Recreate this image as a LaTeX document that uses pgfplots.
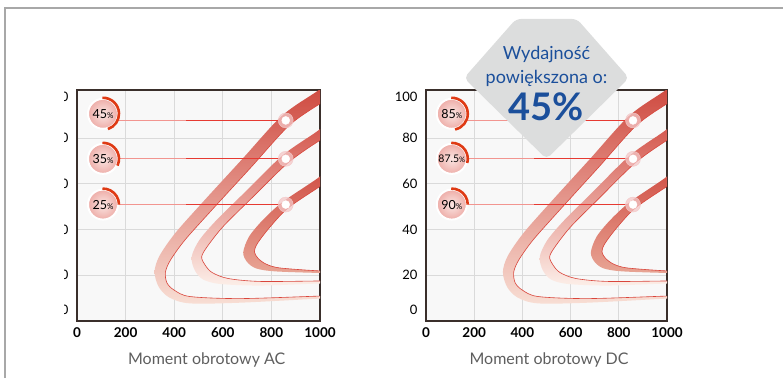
\documentclass[border=0pt]{standalone}
\usepackage{pgfplots}
\usepackage{pgfplotstable}
\pgfplotsset{compat=1.18}
\usepackage{fontspec}
\setmainfont{Lato}
\definecolor{bgc}{HTML}{F8F8F8}
\definecolor{gridc}{HTML}{DADADA}
\definecolor{axc}{HTML}{3A2F2B}
\definecolor{framec}{HTML}{A8A8A8}
\definecolor{lnred}{HTML}{D9463C}
\definecolor{linepale}{HTML}{F29590}
\definecolor{linered}{HTML}{E63A32}
\definecolor{arcred}{HTML}{DF3A14}
\definecolor{badgein}{HTML}{FBE6E3}
\definecolor{badgeout}{HTML}{EEAFAA}
\definecolor{halo}{HTML}{F4C8C8}
\definecolor{hexc}{HTML}{DCDDDD}
\definecolor{bluec}{HTML}{1B4F9B}
\definecolor{labelc}{HTML}{5E5E5E}

% outer ribbon (45% / 85%)
\pgfplotstableread{
x y
1068 106.3
986 100.3
842 89.6
680 70.8
516 51.8
404 38.4
339 28.4
319 21.4
337 14.8
381 10.2
465 7.7
671 8.0
1000 9.8
1082 10.0
1082 11.0
1000 10.9
671 9.8
465 10.7
400 13.5
370 16.7
364 21.4
385 26.7
444 35.4
552 48.2
716 67.2
875 85.7
1014 96.0
1096 102.0
}\bandA
\pgfplotstableread{
x y
1096 102.0
1014 96.0
875 85.7
716 67.2
552 48.2
444 35.4
385 26.7
364 21.4
370 16.7
400 13.5
465 10.7
671 9.8
1000 10.9
1082 11.0
}\edgeA
% middle ribbon
\pgfplotstableread{
x y
1066 89.7
989 83.0
846 72.4
685 55.7
574 44.1
503 35.3
472 28.1
484 22.3
518 18.2
588 16.2
753 15.5
1000 16.4
1082 16.5
1082 17.5
1000 17.5
753 17.3
621 18.6
556 21.2
527 24.5
513 28.1
537 32.7
602 41.4
712 53.0
871 69.4
1011 79.8
1099 85.3
}\bandB
\pgfplotstableread{
x y
1099 85.3
1011 79.8
871 69.4
712 53.0
602 41.4
537 32.7
513 28.1
527 24.5
556 21.2
621 18.6
753 17.3
1000 17.5
1082 17.5
}\edgeB
% inner ribbon
\pgfplotstableread{
x y
1068 69.4
990 62.4
848 52.2
766 44.3
708 36.9
684 30.0
700 25.8
737 23.0
815 21.7
1000 21.0
1082 21.0
1082 21.9
1000 21.9
835 23.2
778 24.9
745 27.4
730 30.3
743 34.0
795 41.2
871 49.6
1009 59.5
1090 65.6
}\bandC
\pgfplotstableread{
x y
1090 65.6
1009 59.5
871 49.6
795 41.2
743 34.0
730 30.3
745 27.4
778 24.9
835 23.2
1000 21.9
1082 21.9
}\edgeC

\pgfplotsset{
  panel/.style={
    scale only axis, height=231pt,
    xmin=0, xmax=1000, ymin=0, ymax=101,
    axis background/.style={fill=bgc},
    axis line style={draw=axc, line width=1.3pt},
    grid=major, grid style={gridc, line width=0.8pt},
    major tick length=0pt,
    xtick={0,200,400,600,800,1000},
    ytick={20,40,60,80},
    extra y ticks={4.8,98}, extra y tick labels={0,100},
    extra y tick style={grid=none},
    /pgf/number format/assume math mode=true,
    /pgf/number format/set thousands separator={},
    xticklabel style={font=\bfseries\fontsize{13.5}{14}\selectfont, yshift=-3pt},
    yticklabel style={font=\fontsize{13}{14}\selectfont, xshift=-5pt},
  }
}

\newcommand\badge[4]{%
  \shade[inner color=badgein, outer color=badgeout] (axis cs:#1,#2) circle[radius=14.5pt];
  \draw[white, line width=2pt] (axis cs:#1,#2) circle[radius=15pt];
  \draw[arcred, line width=2.6pt] (axis cs:#1,#2) ++(92:16pt) arc[start angle=92, end angle=#4, radius=16pt];
  \node[inner sep=0pt] at (axis cs:#1,#2) {#3};
}

\newcommand\panelcontent[3]{%
  \addplot[smooth, draw=none, top color={rgb,255:red,205;green,68;blue,58}, bottom color={rgb,255:red,248;green,222;blue,212}] table {\bandA};
  \addplot[smooth, draw=none, top color={rgb,255:red,210;green,78;blue,68}, bottom color={rgb,255:red,252;green,238;blue,232}] table {\bandB};
  \addplot[smooth, draw=none, top color={rgb,255:red,207;green,74;blue,64}, bottom color={rgb,255:red,232;green,165;blue,149}] table {\bandC};
  \addplot[smooth, lnred, line width=0.6pt] table {\edgeA};
  \addplot[smooth, lnred, line width=0.6pt] table {\edgeB};
  \addplot[smooth, lnred, line width=0.6pt] table {\edgeC};
  \addplot[linepale, line width=1.3pt] coordinates {(120,87.7) (450,87.7)};
  \addplot[linered, line width=1.3pt] coordinates {(450,87.7) (859,87.7)};
  \addplot[linepale, line width=1.3pt] coordinates {(120,70.9) (450,70.9)};
  \addplot[linered, line width=1.3pt] coordinates {(450,70.9) (859,70.9)};
  \addplot[linepale, line width=1.3pt] coordinates {(120,50.9) (450,50.9)};
  \addplot[linered, line width=1.3pt] coordinates {(450,50.9) (859,50.9)};
  \addplot[halo, only marks, mark=*, mark size=7.5pt, mark options={solid, draw=none, fill=halo, fill opacity=0.75}] coordinates {(859,87.7) (859,70.9) (859,50.9)};
  \addplot[white, only marks, mark=*, mark size=4pt, mark options={solid, draw=none, fill=white}] coordinates {(859,87.7) (859,70.9) (859,50.9)};
  #1
  #2
  #3
}

\begin{document}
\begin{tikzpicture}[x=1pt,y=1pt]
\path[use as bounding box] (0,0) rectangle (783,378);
\begin{axis}[panel, at={(77pt,57pt)}, anchor=south west, width=243pt]
\panelcontent
 {\badge{107}{90.6}{\fontsize{12.5}{13}\selectfont 45\fontsize{8}{9}\selectfont\%}{-72}}
 {\badge{107}{70.9}{\fontsize{12.5}{13}\selectfont 35\fontsize{8}{9}\selectfont\%}{-25}}
 {\badge{107}{50.9}{\fontsize{12.5}{13}\selectfont 25\fontsize{8}{9}\selectfont\%}{0}}
\end{axis}
\begin{axis}[panel, at={(426pt,57pt)}, anchor=south west, width=241pt]
\panelcontent
 {\badge{107}{90.6}{\fontsize{12.5}{13}\selectfont 85\fontsize{8}{9}\selectfont\%}{-78}}
 {\badge{107}{70.9}{\fontsize{10.5}{11}\selectfont 87.5\fontsize{7.5}{8}\selectfont\%}{-15}}
 {\badge{107}{50.9}{\fontsize{12.5}{13}\selectfont 90\fontsize{8}{9}\selectfont\%}{0}}
\end{axis}
% clipped left labels
\fill[white] (6,50) rectangle (63.5,300);
% outer frame
\draw[framec, line width=1.3pt] (5,0) -- (5,370) -- (783,370);
% axis titles
\node[labelc, font=\fontsize{16}{18}\selectfont] at (206.7,18) {Moment obrotowy AC};
\node[labelc, font=\fontsize{16}{18}\selectfont] at (549,18) {Moment obrotowy DC};
% callout
\fill[hexc, rounded corners=5pt] (516,359) -- (577,359) -- (629,300) -- (546.5,219) -- (464,300) -- cycle;
\node[bluec, font=\fontsize{18}{20}\selectfont] at (546.5,323) {Wydajność};
\node[bluec, font=\fontsize{18}{20}\selectfont] at (546.5,299.5) {powiększona o:};
\node[bluec, font=\bfseries\fontsize{38}{40}\selectfont] at (546.5,271) {45\%};
\end{tikzpicture}
\end{document}
